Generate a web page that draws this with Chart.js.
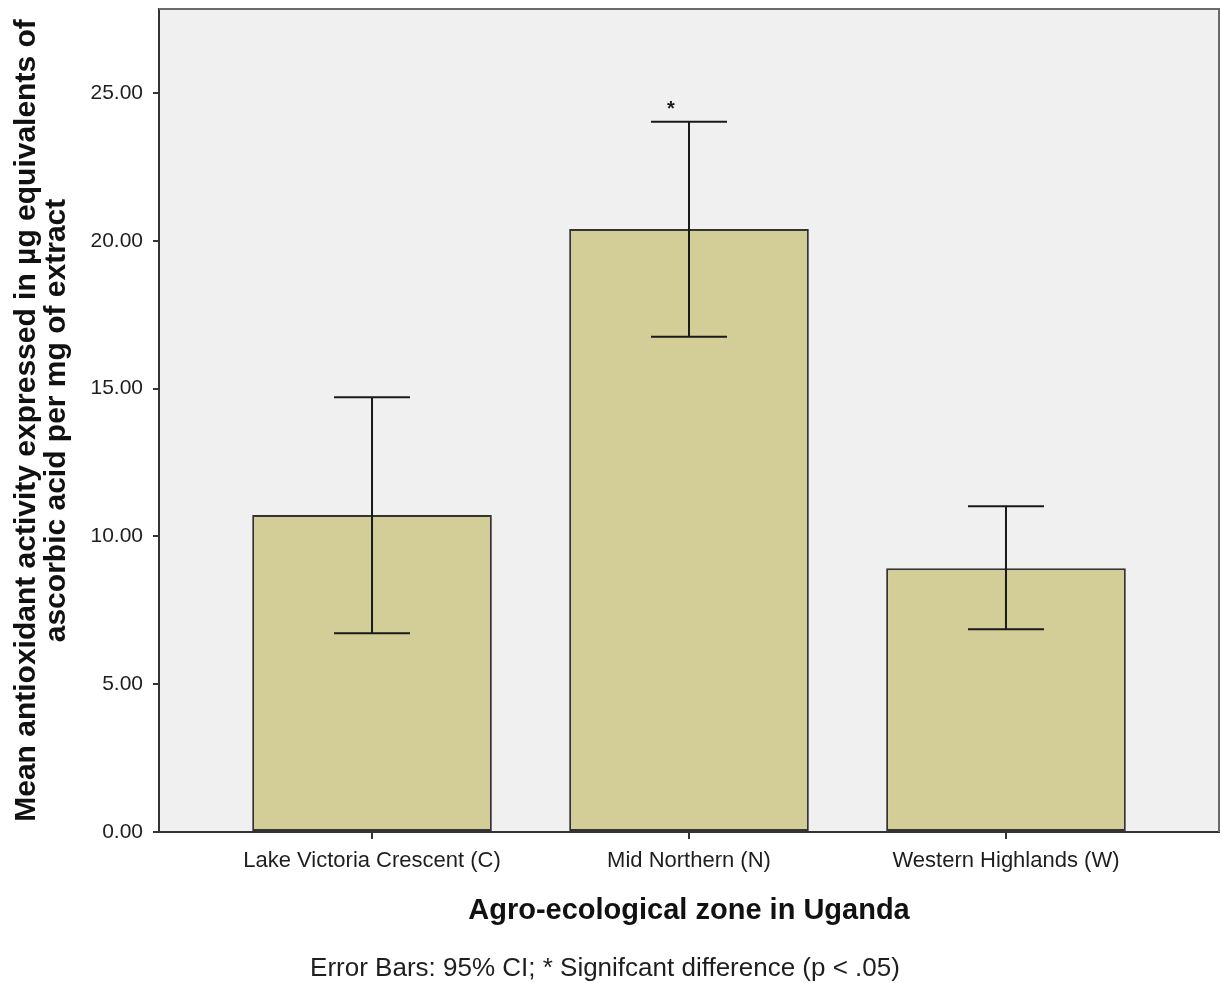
<!DOCTYPE html>
<html>
<head>
<meta charset="utf-8">
<script src="https://cdn.jsdelivr.net/npm/chart.js@4/dist/chart.umd.min.js"></script>
<style>
  html, body { margin: 0; padding: 0; background: #ffffff; }
  canvas { display: block; }
</style>
</head>
<body>
<canvas id="chart" width="1221" height="983"></canvas>
<script>
// Zones compared and their mean antioxidant activity with 95% CI bounds
const zones = ['Lake Victoria Crescent (C)', 'Mid Northern (N)', 'Western Highlands (W)'];
const meanActivity = [10.72, 20.40, 8.92];
const ciLower = [6.72, 16.75, 6.86];
const ciUpper = [14.71, 24.03, 11.02];
const significant = [false, true, false];
const yTickValues = [0, 5, 10, 15, 20, 25];

const xTitle = 'Agro-ecological zone in Uganda';
const yTitle = ['Mean antioxidant activity expressed in µg equivalents of',
                'ascorbic acid per mg of extract'];
const footnote = 'Error Bars: 95% CI; * Signifcant difference (p < .05)';

const AXIS = '#333333';
const TEXT = '#1e1e1e';

// Grey plot background with a lighter frame on the top and right edges
const plotFrame = {
  id: 'plotFrame',
  beforeDraw(chart) {
    const { ctx, chartArea: a } = chart;
    ctx.save();
    ctx.fillStyle = '#f0f0f0';
    ctx.fillRect(a.left, a.top, a.right - a.left, a.bottom - a.top);
    ctx.restore();
  },
  afterDraw(chart) {
    const { ctx, chartArea: a } = chart;
    ctx.save();
    ctx.strokeStyle = '#6a6a6a';
    ctx.lineWidth = 2;
    ctx.beginPath();
    ctx.moveTo(a.left, a.top);
    ctx.lineTo(a.right, a.top);
    ctx.lineTo(a.right, a.bottom);
    ctx.stroke();
    // footnote below the axis title
    ctx.fillStyle = TEXT;
    ctx.font = '26px "Liberation Sans Narrow", "Liberation Sans", Arial, sans-serif';
    ctx.textAlign = 'center';
    ctx.textBaseline = 'middle';
    ctx.fillText(footnote, 605, 969);
    ctx.restore();
  }
};

// 95% confidence interval whiskers and significance marker
const ciWhiskers = {
  id: 'ciWhiskers',
  afterDatasetsDraw(chart) {
    const { ctx } = chart;
    const xs = chart.scales.x, ys = chart.scales.y;
    const cap = 38;
    ctx.save();
    ctx.strokeStyle = '#1a1a1a';
    ctx.lineWidth = 2;
    zones.forEach((_, i) => {
      const x = xs.getPixelForValue(i);
      const yLo = ys.getPixelForValue(ciLower[i]);
      const yHi = ys.getPixelForValue(ciUpper[i]);
      ctx.beginPath();
      ctx.moveTo(x, yLo); ctx.lineTo(x, yHi);
      ctx.moveTo(x - cap, yHi); ctx.lineTo(x + cap, yHi);
      ctx.moveTo(x - cap, yLo); ctx.lineTo(x + cap, yLo);
      ctx.stroke();
      if (significant[i]) {
        ctx.fillStyle = '#1a1a1a';
        ctx.font = 'bold 20px "Liberation Sans", Arial, sans-serif';
        ctx.textAlign = 'center';
        ctx.textBaseline = 'bottom';
        ctx.fillText('*', x - 18, yHi - 2);
      }
    });
    ctx.restore();
  }
};

new Chart(document.getElementById('chart'), {
  type: 'bar',
  data: {
    datasets: [{
      data: meanActivity.map((v, i) => ({ x: i, y: v })),
      backgroundColor: '#d3ce98',
      borderColor: AXIS,
      borderWidth: 2,
      borderSkipped: false,
      categoryPercentage: 1,
      barPercentage: 0.756
    }]
  },
  options: {
    responsive: false,
    animation: false,
    layout: { padding: { top: 9, right: 2, left: 0, bottom: 0 } },
    plugins: { legend: { display: false }, tooltip: { enabled: false } },
    scales: {
      x: {
        type: 'linear',
        min: -0.672,
        max: 2.672,
        offset: false,
        afterBuildTicks(scale) { scale.ticks = zones.map((_, i) => ({ value: i })); },
        afterFit(scale) { scale.height = 151; scale.paddingLeft = 0; scale.paddingRight = 0; },
        ticks: {
          callback: v => zones[v],
          color: TEXT,
          font: { family: '"Liberation Sans", Arial, sans-serif', size: 22 },
          padding: 9,
          maxRotation: 0,
          autoSkip: false
        },
        grid: { offset: false, drawOnChartArea: false, drawTicks: true, tickLength: 7, color: AXIS, lineWidth: 2 },
        border: { display: true, color: AXIS, width: 2 },
        title: {
          display: true,
          text: xTitle,
          color: '#111',
          font: { family: '"Liberation Sans", Arial, sans-serif', size: 29, weight: 'bold' },
          padding: { top: 0, bottom: 55 }
        }
      },
      y: {
        min: 0,
        max: 27.84,
        afterBuildTicks(scale) { scale.ticks = yTickValues.map(v => ({ value: v })); },
        afterFit(scale) { scale.width = 159; scale.paddingTop = 0; scale.paddingBottom = 0; },
        ticks: {
          callback: v => Number(v).toFixed(2),
          color: TEXT,
          font: { family: '"Liberation Sans", Arial, sans-serif', size: 21 },
          padding: 10
        },
        grid: { drawOnChartArea: false, drawTicks: true, tickLength: 6, color: AXIS, lineWidth: 2 },
        border: { display: true, color: AXIS, width: 2 },
        title: {
          display: true,
          text: yTitle,
          color: '#111',
          font: { family: '"Liberation Sans", Arial, sans-serif', size: 30, weight: 'bold', lineHeight: 1.0 },
          padding: { top: 12, bottom: 0 }
        }
      }
    }
  },
  plugins: [plotFrame, ciWhiskers]
});
</script>
</body>
</html>
